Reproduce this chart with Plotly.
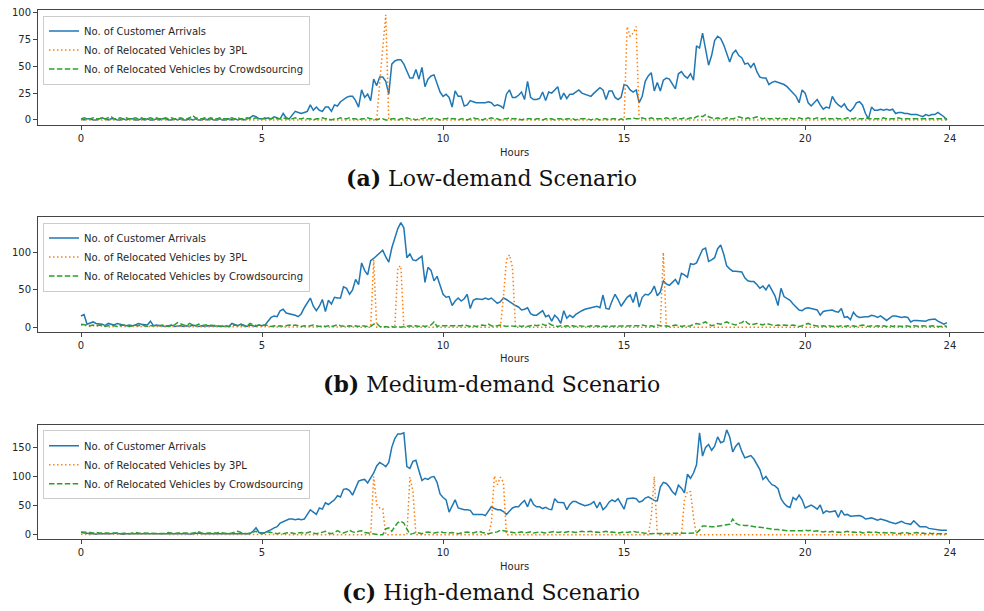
import plotly.graph_objects as go

# ---------------- data (5-minute bins) ----------------
minutes = list(range(0, 24 * 60, 5))
hours = [m / 60 for m in minutes]

series_names = ["No. of Customer Arrivals",
                "No. of Relocated Vehicles by 3PL",
                "No. of Relocated Vehicles by Crowdsourcing"]

x_tick_vals = [0, 5, 10, 15, 20, 24]
y_tick_vals = [[0, 25, 50, 75, 100], [0, 50, 100], [0, 50, 100, 150]]

captions = ["<b>(a)</b> Low-demand Scenario",
            "<b>(b)</b> Medium-demand Scenario",
            "<b>(c)</b> High-demand Scenario"]

low_arrivals = [
    1, 0, 1, 1, 0, 0, 1, 2, 1, 0, 1, 1, 0, 0, 1, 0, 1, 1, 0, 0, 1, 0, 1, 0,
    0, 1, 0, 1, 1, 0, 0, 1, 0, 1, 0, 0, 1, 0, 1, 0, 0, 1, 0, 1, 0, 0, 1, 0,
    0, 1, 0, 1, 0, 1, 0, 1, 2, 4, 3, 1, 1, 1, 2, 1, 3, 2, 1, 6, 2, 1, 4, 8,
    7, 6, 7, 8, 14, 9, 12, 9, 8, 12, 12, 8, 14, 13, 17, 19, 21, 22, 22, 18, 12, 28, 21, 24,
    18, 38, 32, 40, 40, 36, 24, 52, 55, 56, 56, 52, 45, 39, 39, 47, 38, 49, 31, 38, 41, 42, 34, 26,
    22, 24, 21, 12, 27, 22, 22, 13, 14, 18, 17, 16, 16, 16, 16, 17, 16, 13, 14, 13, 11, 24, 28, 21,
    21, 23, 26, 19, 36, 21, 19, 19, 20, 26, 18, 26, 25, 28, 31, 19, 25, 20, 24, 24, 26, 28, 25, 24,
    23, 22, 25, 28, 30, 28, 19, 27, 27, 21, 19, 21, 33, 32, 28, 26, 28, 16, 22, 36, 41, 44, 27, 35,
    27, 37, 39, 38, 34, 29, 43, 45, 41, 39, 43, 37, 69, 67, 81, 66, 51, 60, 74, 78, 76, 70, 62, 54,
    62, 65, 60, 58, 52, 53, 49, 53, 45, 40, 39, 39, 33, 35, 36, 35, 34, 33, 31, 28, 25, 22, 16, 28,
    25, 16, 13, 16, 19, 14, 10, 12, 11, 22, 17, 14, 12, 15, 10, 8, 11, 16, 17, 14, 6, 1, 12, 9,
    9, 10, 9, 10, 9, 10, 6, 7, 7, 6, 6, 5, 5, 5, 4, 3, 5, 4, 5, 5, 7, 5, 3, 0,
]
low_3pl = [
    0, 0, 0, 0, 0, 0, 0, 0, 0, 0, 0, 0, 0, 0, 0, 0, 0, 0, 0, 0, 0, 0, 0, 0,
    0, 0, 0, 0, 0, 0, 0, 0, 0, 0, 0, 0, 0, 0, 0, 0, 0, 0, 0, 0, 0, 0, 0, 0,
    0, 0, 0, 0, 0, 0, 0, 0, 0, 0, 0, 0, 0, 0, 0, 0, 0, 0, 0, 0, 0, 0, 0, 0,
    0, 0, 0, 0, 0, 0, 0, 0, 0, 0, 0, 0, 0, 0, 0, 0, 0, 0, 0, 0, 0, 0, 0, 0,
    0, 0, 0, 35, 68, 98, 0, 0, 0, 0, 0, 0, 0, 0, 0, 0, 0, 0, 0, 0, 0, 0, 0, 0,
    0, 0, 0, 0, 0, 0, 0, 0, 0, 0, 0, 0, 0, 0, 0, 0, 0, 0, 0, 0, 0, 0, 0, 0,
    0, 0, 0, 0, 0, 0, 0, 0, 0, 0, 0, 0, 0, 0, 0, 0, 0, 0, 0, 0, 0, 0, 0, 0,
    0, 0, 0, 0, 0, 0, 0, 0, 0, 0, 0, 0, 0, 87, 78, 81, 87, 0, 0, 0, 0, 0, 0, 0,
    0, 0, 0, 0, 0, 0, 0, 0, 0, 0, 0, 0, 0, 0, 0, 0, 0, 0, 0, 0, 0, 0, 0, 0,
    0, 0, 0, 0, 0, 0, 0, 0, 0, 0, 0, 0, 0, 0, 0, 0, 0, 0, 0, 0, 0, 0, 0, 0,
    0, 0, 0, 0, 0, 0, 0, 0, 0, 0, 0, 0, 0, 0, 0, 0, 0, 0, 0, 0, 0, 0, 0, 0,
    0, 0, 0, 0, 0, 0, 0, 0, 0, 0, 0, 0, 0, 0, 0, 0, 0, 0, 0, 0, 0, 0, 0, 0,
]
low_crowd = [
    1, 2, 1, 1, 2, 1, 1, 2, 1, 2, 3, 1, 1, 2, 1, 2, 1, 1, 2, 1, 2, 1, 1, 2,
    1, 2, 1, 1, 2, 1, 2, 1, 1, 2, 1, 1, 2, 4, 2, 1, 1, 2, 1, 2, 1, 1, 2, 1,
    1, 1, 2, 1, 2, 1, 1, 2, 1, 1, 2, 1, 1, 2, 1, 1, 2, 1, 1, 2, 1, 1, 1, 2,
    1, 1, 2, 1, 1, 0, 1, 1, 2, 1, 1, 0, 1, 1, 2, 1, 1, 2, 1, 1, 0, 1, 1, 2,
    1, 1, 0, 1, 1, 0, 0, 1, 1, 0, 1, 1, 2, 1, 1, 0, 1, 1, 2, 1, 1, 2, 1, 0,
    1, 1, 2, 1, 1, 0, 1, 1, 0, 1, 2, 1, 1, 0, 1, 1, 2, 1, 1, 0, 1, 1, 2, 1,
    1, 1, 0, 1, 1, 1, 0, 1, 1, 0, 1, 1, 1, 0, 1, 1, 0, 1, 1, 1, 0, 1, 1, 1,
    1, 0, 1, 1, 0, 1, 1, 0, 1, 1, 0, 1, 0, 1, 1, 2, 1, 1, 2, 1, 1, 2, 1, 1,
    1, 1, 2, 1, 1, 2, 1, 1, 2, 1, 2, 1, 3, 4, 3, 5, 3, 2, 1, 2, 1, 1, 2, 1,
    1, 2, 3, 2, 1, 2, 1, 2, 3, 2, 1, 2, 1, 1, 2, 1, 2, 1, 1, 2, 1, 1, 2, 1,
    1, 2, 1, 1, 2, 1, 1, 2, 1, 1, 2, 1, 1, 1, 2, 1, 1, 2, 1, 1, 2, 1, 1, 1,
    1, 1, 2, 1, 1, 1, 1, 2, 1, 1, 1, 1, 1, 1, 1, 1, 1, 1, 1, 1, 1, 1, 1, 1,
]

medium_arrivals = [
    15, 17, 4, 6, 7, 5, 5, 4, 2, 5, 4, 3, 5, 4, 3, 2, 3, 2, 3, 5, 4, 3, 3, 8,
    2, 3, 2, 2, 1, 2, 3, 1, 2, 2, 1, 2, 1, 3, 2, 1, 2, 1, 2, 2, 1, 1, 2, 1,
    2, 1, 5, 3, 2, 4, 2, 1, 3, 2, 1, 3, 2, 3, 8, 13, 15, 14, 22, 24, 19, 18, 18, 16,
    14, 18, 26, 33, 39, 28, 22, 28, 37, 21, 36, 31, 40, 39, 39, 54, 52, 44, 50, 64, 57, 86, 76, 70,
    89, 92, 96, 100, 103, 94, 87, 106, 120, 132, 140, 133, 93, 98, 90, 89, 92, 95, 60, 80, 76, 62, 68, 55,
    44, 40, 41, 29, 35, 39, 35, 38, 44, 25, 36, 38, 37, 37, 39, 37, 39, 35, 32, 34, 39, 37, 34, 31,
    29, 27, 23, 24, 26, 18, 16, 16, 19, 22, 14, 16, 8, 16, 12, 5, 22, 12, 16, 13, 17, 20, 22, 24,
    25, 26, 28, 28, 26, 43, 25, 24, 35, 44, 37, 28, 34, 40, 43, 33, 47, 27, 40, 44, 43, 47, 55, 42,
    47, 62, 58, 56, 60, 64, 57, 72, 70, 67, 85, 84, 86, 95, 104, 106, 88, 90, 93, 105, 110, 98, 82, 78,
    75, 75, 75, 74, 66, 62, 61, 61, 57, 52, 55, 50, 57, 50, 42, 29, 52, 41, 39, 36, 31, 27, 23, 22,
    25, 26, 25, 23, 23, 16, 21, 22, 23, 23, 21, 20, 25, 13, 14, 10, 20, 15, 13, 14, 14, 14, 16, 15,
    13, 15, 12, 9, 12, 15, 15, 14, 13, 14, 13, 7, 9, 9, 9, 8, 8, 10, 11, 11, 8, 6, 4, 6,
]
medium_3pl = [
    3, 2, 2, 1, 2, 1, 1, 2, 1, 1, 0, 1, 1, 0, 1, 1, 0, 1, 0, 1, 1, 0, 1, 0,
    0, 0, 0, 0, 0, 0, 0, 0, 0, 0, 0, 0, 0, 0, 0, 0, 0, 0, 0, 0, 0, 0, 0, 0,
    0, 0, 0, 0, 0, 0, 0, 0, 0, 0, 0, 0, 0, 0, 0, 0, 0, 0, 0, 0, 0, 0, 0, 0,
    0, 0, 0, 0, 0, 0, 0, 0, 0, 0, 0, 0, 0, 0, 0, 0, 0, 0, 0, 0, 0, 0, 0, 0,
    0, 90, 0, 0, 0, 0, 0, 0, 0, 80, 82, 0, 0, 0, 0, 0, 0, 0, 0, 0, 0, 0, 0, 0,
    0, 0, 0, 0, 0, 0, 0, 0, 0, 0, 0, 0, 0, 0, 0, 0, 0, 0, 0, 0, 40, 90, 97, 80,
    0, 0, 0, 0, 0, 0, 0, 0, 0, 0, 0, 0, 0, 0, 0, 0, 0, 0, 0, 0, 0, 0, 0, 0,
    0, 0, 0, 0, 0, 0, 0, 0, 0, 0, 0, 0, 0, 0, 0, 0, 0, 0, 0, 0, 0, 0, 0, 0,
    0, 100, 0, 0, 0, 0, 0, 0, 0, 0, 0, 0, 0, 0, 0, 0, 0, 0, 0, 0, 0, 0, 0, 0,
    0, 0, 0, 0, 0, 0, 0, 0, 0, 0, 0, 0, 0, 0, 0, 0, 0, 0, 0, 0, 0, 0, 0, 0,
    0, 0, 0, 0, 0, 0, 0, 0, 0, 0, 0, 0, 0, 0, 0, 0, 0, 0, 0, 0, 0, 0, 0, 0,
    0, 0, 0, 0, 0, 0, 0, 0, 0, 0, 0, 0, 0, 0, 0, 0, 0, 0, 0, 0, 0, 0, 0, 0,
]
medium_crowd = [
    4, 3, 3, 2, 3, 2, 3, 2, 1, 2, 3, 2, 1, 2, 3, 2, 1, 2, 3, 2, 3, 2, 1, 2,
    2, 1, 2, 3, 2, 1, 2, 3, 6, 4, 3, 2, 5, 3, 2, 4, 2, 3, 3, 2, 3, 2, 1, 2,
    2, 1, 2, 3, 2, 3, 2, 1, 5, 3, 2, 3, 2, 3, 2, 1, 2, 1, 2, 1, 2, 3, 2, 3,
    2, 1, 2, 1, 2, 3, 2, 1, 2, 1, 2, 1, 2, 3, 2, 1, 1, 2, 1, 2, 1, 2, 1, 1,
    1, 4, 5, 1, 0, 1, 0, 1, 0, 1, 0, 1, 1, 2, 1, 2, 1, 2, 1, 2, 3, 7, 1, 2,
    2, 1, 2, 1, 2, 1, 2, 3, 2, 1, 2, 1, 2, 3, 2, 4, 2, 1, 2, 3, 2, 1, 2, 1,
    1, 2, 1, 2, 1, 2, 3, 2, 3, 4, 2, 5, 3, 2, 1, 2, 1, 2, 1, 2, 1, 2, 1, 1,
    1, 2, 1, 2, 1, 1, 2, 1, 2, 1, 1, 2, 1, 2, 1, 2, 1, 2, 3, 2, 1, 2, 1, 3,
    2, 1, 2, 1, 2, 3, 2, 1, 2, 1, 2, 3, 5, 4, 6, 7, 4, 2, 3, 5, 4, 6, 7, 5,
    4, 3, 5, 6, 9, 5, 3, 4, 5, 4, 3, 5, 4, 3, 2, 3, 2, 3, 2, 2, 3, 2, 1, 2,
    4, 5, 3, 2, 2, 1, 2, 1, 2, 1, 2, 1, 2, 1, 2, 1, 2, 1, 2, 3, 2, 1, 2, 1,
    2, 1, 2, 1, 2, 1, 2, 1, 1, 2, 1, 1, 2, 1, 1, 2, 1, 1, 2, 1, 1, 1, 2, 1,
]

high_arrivals = [
    4, 3, 3, 2, 2, 1, 2, 2, 1, 2, 2, 3, 2, 2, 1, 2, 2, 2, 3, 2, 2, 2, 3, 2,
    2, 2, 3, 2, 2, 3, 2, 2, 2, 3, 2, 2, 1, 2, 2, 3, 2, 2, 2, 3, 2, 2, 3, 2,
    2, 3, 2, 3, 2, 2, 3, 2, 2, 6, 12, 4, 3, 4, 6, 9, 12, 14, 20, 22, 24, 27, 27, 26,
    27, 26, 27, 35, 43, 39, 35, 46, 44, 55, 52, 56, 60, 67, 65, 78, 79, 76, 68, 80, 92, 94, 95, 89,
    98, 106, 118, 124, 121, 117, 124, 150, 165, 173, 173, 175, 117, 114, 126, 128, 110, 93, 97, 95, 99, 100, 90, 70,
    64, 60, 39, 50, 60, 46, 44, 43, 43, 42, 35, 35, 34, 35, 33, 40, 48, 45, 43, 43, 40, 35, 41, 46,
    48, 48, 54, 59, 48, 62, 52, 48, 48, 45, 47, 44, 43, 62, 56, 56, 55, 43, 52, 57, 57, 54, 52, 50,
    51, 53, 57, 46, 56, 43, 48, 56, 60, 57, 62, 54, 44, 62, 63, 63, 62, 56, 58, 63, 65, 62, 59, 58,
    82, 90, 88, 82, 74, 69, 85, 80, 72, 104, 97, 106, 120, 175, 135, 150, 155, 145, 152, 168, 158, 160, 180, 168,
    142, 152, 158, 143, 132, 134, 136, 130, 122, 112, 95, 100, 92, 86, 84, 79, 62, 54, 49, 47, 64, 60, 68, 60,
    46, 48, 51, 48, 44, 51, 37, 41, 39, 40, 41, 30, 42, 34, 35, 32, 32, 33, 33, 31, 27, 28, 29, 27,
    25, 27, 26, 24, 22, 21, 19, 21, 23, 20, 19, 18, 24, 19, 14, 14, 14, 11, 10, 10, 9, 8, 8, 8,
]
high_3pl = [
    1, 0, 1, 0, 1, 1, 0, 1, 0, 0, 1, 0, 1, 0, 0, 1, 0, 0, 1, 0, 0, 1, 0, 0,
    0, 0, 0, 0, 0, 0, 0, 0, 0, 0, 0, 0, 0, 0, 0, 0, 0, 0, 0, 0, 0, 0, 0, 0,
    0, 0, 0, 0, 0, 0, 0, 0, 0, 0, 0, 0, 0, 0, 0, 0, 0, 0, 0, 0, 0, 0, 0, 0,
    0, 0, 0, 0, 0, 0, 0, 0, 0, 0, 0, 0, 0, 0, 0, 0, 0, 0, 0, 0, 0, 0, 0, 0,
    0, 100, 52, 46, 45, 0, 0, 0, 0, 0, 0, 0, 0, 99, 75, 0, 0, 0, 0, 0, 0, 0, 0, 0,
    0, 0, 0, 0, 0, 0, 0, 0, 0, 0, 0, 0, 0, 0, 0, 0, 20, 101, 86, 99, 90, 0, 0, 0,
    0, 0, 0, 0, 0, 0, 0, 0, 0, 0, 0, 0, 0, 0, 0, 0, 0, 0, 0, 0, 0, 0, 0, 0,
    0, 0, 0, 0, 0, 0, 0, 0, 0, 0, 0, 0, 0, 0, 0, 0, 0, 0, 0, 0, 0, 30, 100, 0,
    0, 0, 0, 0, 0, 0, 0, 0, 60, 74, 74, 30, 0, 0, 0, 0, 0, 0, 0, 0, 0, 0, 0, 0,
    0, 0, 0, 0, 0, 0, 0, 0, 0, 0, 0, 0, 0, 0, 0, 0, 0, 0, 0, 0, 0, 0, 0, 0,
    0, 0, 0, 0, 0, 0, 0, 0, 0, 0, 0, 0, 0, 0, 0, 0, 0, 0, 0, 0, 0, 0, 0, 0,
    0, 0, 0, 0, 0, 0, 0, 0, 0, 0, 0, 0, 0, 0, 0, 0, 0, 0, 0, 0, 0, 0, 0, 0,
]
high_crowd = [
    5, 5, 4, 4, 3, 4, 3, 3, 4, 3, 2, 3, 3, 2, 3, 3, 2, 3, 4, 3, 2, 3, 3, 2,
    3, 2, 3, 3, 2, 4, 3, 2, 3, 3, 4, 3, 2, 3, 4, 5, 3, 2, 3, 3, 2, 3, 4, 3,
    3, 2, 3, 4, 6, 4, 3, 2, 3, 4, 6, 3, 2, 3, 5, 4, 3, 2, 3, 2, 3, 4, 3, 2,
    3, 4, 2, 3, 5, 3, 2, 3, 4, 6, 3, 2, 4, 7, 4, 3, 5, 8, 5, 4, 6, 7, 4, 3,
    3, 1, 0, 0, 0, 10, 12, 6, 14, 21, 23, 20, 10, 1, 2, 4, 3, 2, 4, 5, 4, 3, 4, 5,
    4, 3, 3, 4, 3, 2, 3, 4, 5, 4, 3, 5, 6, 4, 3, 2, 3, 4, 5, 8, 7, 5, 4, 3,
    3, 4, 5, 3, 4, 5, 3, 4, 5, 4, 3, 4, 5, 6, 4, 5, 4, 5, 6, 5, 4, 5, 6, 5,
    5, 6, 4, 5, 4, 5, 6, 4, 5, 4, 3, 4, 5, 4, 5, 6, 5, 4, 3, 3, 2, 2, 2, 2,
    3, 2, 3, 2, 2, 3, 2, 3, 2, 3, 2, 3, 3, 8, 15, 15, 14, 14, 14, 15, 16, 16, 17, 18,
    27, 20, 17, 16, 16, 16, 15, 13, 13, 13, 12, 12, 10, 10, 9, 9, 8, 8, 7, 7, 7, 7, 6, 7,
    8, 7, 8, 6, 7, 6, 5, 6, 5, 6, 4, 5, 4, 5, 6, 4, 5, 4, 5, 3, 4, 5, 4, 5,
    4, 3, 4, 3, 4, 3, 3, 2, 3, 4, 3, 2, 3, 4, 2, 3, 2, 3, 2, 3, 2, 2, 3, 2,
]

# ---------------- layout / style ----------------
W, H = 984, 611
colors = ["#1f77b4", "#ff7f0e", "#2ca02c"]
dashes = ["solid", "1.5px,2.5px", "5.5px,2.4px"]
panel_px = [(7, 123), (215, 331), (424.7, 540)]      # top/bottom of axes (px)
y_ranges = [[-4.9, 102.5], [-6.25, 148], [-8.0, 188.5]]
x_range = [-1.188, 24.94]
legend_top_px = [12.7, 221, 430]
hours_label_px = [150, 358, 567]
caption_px = [176, 384, 593]
left_px = 38
axis_color = "#444444"
tick_font = dict(family="DejaVu Sans", size=10, color="#262626")


def fy(p):
    return 1 - p / H


panels = [
    (low_arrivals, low_3pl, low_crowd),
    (medium_arrivals, medium_3pl, medium_crowd),
    (high_arrivals, high_3pl, high_crowd),
]

fig = go.Figure()
layout = dict(
    width=W, height=H,
    margin=dict(l=0, r=0, t=0, b=0),
    paper_bgcolor="white", plot_bgcolor="white",
    annotations=[],
)

for i, series in enumerate(panels):
    k = "" if i == 0 else str(i + 1)
    leg = "legend" + k
    for j, vals in enumerate(series):
        fig.add_trace(go.Scatter(
            x=hours, y=vals, mode="lines", name=series_names[j],
            line=dict(color=colors[j], width=1.5, dash=dashes[j]),
            xaxis="x" + k, yaxis="y" + k, legend=leg,
        ))
    top, bot = panel_px[i]
    layout["xaxis" + k] = dict(
        domain=[left_px / W, 1], anchor="y" + k, range=x_range,
        tickvals=x_tick_vals, ticktext=[str(v) for v in x_tick_vals],
        showgrid=False, zeroline=False, showline=True, mirror=True,
        linecolor=axis_color, linewidth=1, ticks="outside", ticklen=4,
        tickwidth=1, tickcolor=axis_color, tickfont=tick_font,
    )
    layout["yaxis" + k] = dict(
        domain=[fy(bot), fy(top)], anchor="x" + k, range=y_ranges[i],
        tickvals=y_tick_vals[i], ticktext=[str(v) for v in y_tick_vals[i]],
        showgrid=False, zeroline=False, showline=True, mirror=False,
        linecolor=axis_color, linewidth=1, ticks="outside", ticklen=4,
        tickwidth=1, tickcolor=axis_color, tickfont=tick_font,
    )
    layout[leg] = dict(
        x=43 / W, y=fy(legend_top_px[i]), xanchor="left", yanchor="top",
        bgcolor="rgba(255,255,255,0.8)", bordercolor="#cccccc", borderwidth=1,
        font=dict(family="DejaVu Sans", size=10, color="#262626"),
        tracegroupgap=0, itemwidth=30, traceorder="normal",
    )
    layout["annotations"].append(dict(
        text="Hours", x=514 / W, y=fy(hours_label_px[i]), xref="paper", yref="paper",
        xanchor="center", yanchor="middle", showarrow=False,
        font=dict(family="DejaVu Sans", size=10, color="#262626"),
    ))
    layout["annotations"].append(dict(
        text=captions[i], x=491 / W, y=fy(caption_px[i]), xref="paper", yref="paper",
        xanchor="center", yanchor="middle", showarrow=False,
        font=dict(family="DejaVu Serif", size=22, color="#111111"),
    ))

fig.update_layout(**layout)
fig.write_html("out.html",
               config={"displayModeBar": False},
               post_script="document.body.style.margin='0px';document.body.style.padding='0px';")
